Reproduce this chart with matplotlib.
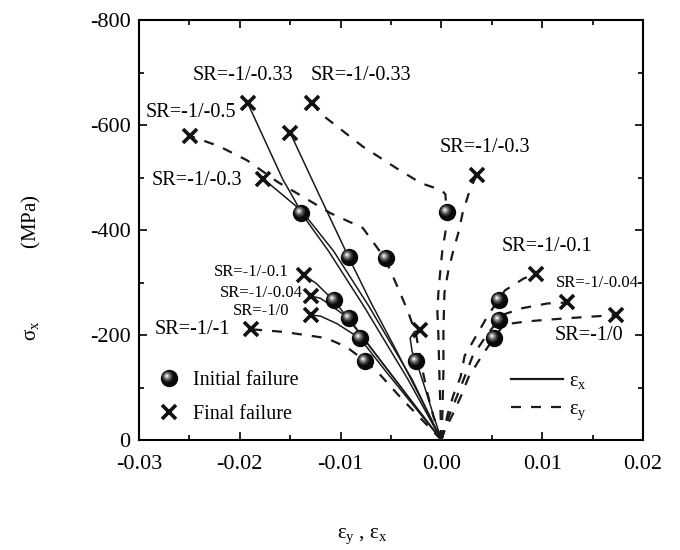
import numpy as np
import matplotlib
matplotlib.use("Agg")
import matplotlib.pyplot as plt
from matplotlib.markers import MarkerStyle
from matplotlib.transforms import Affine2D
from matplotlib.legend_handler import HandlerTuple
from matplotlib.lines import Line2D
from matplotlib.ticker import MultipleLocator, FormatStrFormatter

plt.rcParams['font.family'] = ['Liberation Serif', 'DejaVu Serif']
plt.rcParams['mathtext.fontset'] = 'custom'
plt.rcParams['mathtext.rm'] = 'Liberation Serif'
plt.rcParams['mathtext.it'] = 'Liberation Serif:italic'
plt.rcParams['axes.unicode_minus'] = False

# strain (x) / stress in MPa (y) for each stress ratio, solid = eps_x
ex_sr033_x = [0, -0.0033, -0.0077, -0.0112, -0.0139, -0.0143, -0.0153, -0.0157, -0.0192]
ex_sr033_y = [0, -115, -255, -360, -432, -448, -482, -495, -641]
ex_sr03_x = [0, -0.0029, -0.0072, -0.0107, -0.0136, -0.0142, -0.0177]
ex_sr03_y = [0, -115, -255, -360, -430, -442, -498]
ex_sr05_x = [0, -0.0022, -0.0046, -0.0070, -0.0092, -0.0106, -0.0122, -0.0150]
ex_sr05_y = [0, -85, -175, -262, -348, -405, -470, -585]
ex_sr01_x = [0, -0.0028, -0.0055, -0.0082, -0.0107, -0.0114, -0.0124, -0.0136]
ex_sr01_y = [0, -70, -138, -205, -267, -279, -298, -314]
ex_sr004_x = [0, -0.0030, -0.0061, -0.0092, -0.0108, -0.0120, -0.0129]
ex_sr004_y = [0, -75, -153, -232, -254, -270, -274]
ex_sr0_x = [0, -0.0027, -0.0054, -0.0081, -0.0104, -0.0120, -0.0129]
ex_sr0_y = [0, -64, -128, -194, -222, -236, -238]
ex_sr1_x = [0, -0.0008, -0.0016, -0.0025, -0.0029, -0.0031, -0.0027, -0.0021]
ex_sr1_y = [0, -48, -97, -151, -168, -194, -206, -210]

# dashed = eps_y
ey_sr1_x = [0, -0.0022, -0.0041, -0.0063, -0.0076, -0.0094, -0.0114, -0.0135, -0.0157, -0.0189]
ey_sr1_y = [0, -44, -82, -129, -151, -177, -194, -200, -206, -211]
ey_sr05_x = [0, -0.0008, -0.0014, -0.0020, -0.0025, -0.0033, -0.0042, -0.0050, -0.0056,
             -0.0078, -0.0110, -0.0137, -0.0162, -0.0193, -0.0221, -0.0249]
ey_sr05_y = [0, -45, -90, -145, -200, -244, -285, -320, -346,
             -404, -432, -463, -491, -533, -560, -579]
ey_sr033_x = [0, -0.0001, -0.0002, -0.0003, -0.0004, -0.0003, -0.0001, 0.0001, 0.0004,
              0.0005, 0.0004, 0.0000, -0.0020, -0.0044, -0.0078, -0.0120, -0.0128]
ey_sr033_y = [0, -60, -125, -200, -245, -280, -324, -362, -396,
              -435, -468, -476, -489, -517, -559, -622, -641]
ey_sr03_x = [0, 0.0001, 0.0002, 0.0002, 0.0003, 0.0007, 0.0012, 0.0017, 0.0021, 0.0028, 0.0035]
ey_sr03_y = [0, -50, -130, -210, -280, -324, -362, -396, -432, -475, -505]
ey_sr01_x = [0, 0.0002, 0.0006, 0.0012, 0.0019, 0.0023, 0.0035, 0.0047, 0.0057, 0.0063, 0.0082, 0.0094]
ey_sr01_y = [0, -13, -48, -86, -120, -160, -200, -240, -267, -285, -308, -316]
ey_sr004_x = [0, 0.0002, 0.0008, 0.0016, 0.0023, 0.0031, 0.0045, 0.0057, 0.0063, 0.0080, 0.0105, 0.0125]
ey_sr004_y = [0, -13, -48, -86, -120, -160, -200, -229, -240, -251, -260, -262]
ey_sr0_x = [0, 0.0002, 0.0011, 0.0020, 0.0027, 0.0040, 0.0052, 0.0062, 0.0085, 0.0125, 0.0173]
ey_sr0_y = [0, -13, -48, -86, -120, -160, -194, -220, -226, -232, -238]

# initial failure points
init_x = [-0.0139, -0.0092, -0.0055, 0.0006, -0.0107, -0.0092, -0.0081, -0.0076, -0.0025, 0.0057, 0.0057, 0.0052]
init_y = [-432, -348, -346, -435, -267, -232, -194, -151, -151, -267, -229, -194]

# final failure points
final_x = [-0.0192, -0.0128, -0.0249, -0.0150, -0.0177, 0.0035, -0.0136, -0.0129, -0.0129,
           -0.0189, -0.0021, 0.0094, 0.0125, 0.0173]
final_y = [-641, -641, -579, -585, -498, -505, -314, -274, -238, -211, -210, -316, -262, -238]

# stress-ratio labels: text, x, y, fontsize
sr_text = ['SR=-1/-0.33', 'SR=-1/-0.33', 'SR=-1/-0.5', 'SR=-1/-0.3', 'SR=-1/-0.3',
           'SR=-1/-0.1', 'SR=-1/-0.04', 'SR=-1/0', 'SR=-1/-1',
           'SR=-1/-0.1', 'SR=-1/-0.04', 'SR=-1/0']
sr_x = [-0.01968, -0.00798, -0.02484, -0.02425, 0.00432,
        -0.01889, -0.0179, -0.0179, -0.02474,
        0.01048, 0.01544, 0.01464]
sr_y = [-695, -695, -623, -495, -558,
        -320, -280, -246, -210,
        -368, -299, -200]
sr_size = [14.5, 14.5, 14.5, 14.5, 14.5, 12, 12, 12, 14.5, 14.5, 12, 14.5]

solid = [(ex_sr033_x, ex_sr033_y), (ex_sr03_x, ex_sr03_y), (ex_sr05_x, ex_sr05_y),
         (ex_sr01_x, ex_sr01_y), (ex_sr004_x, ex_sr004_y), (ex_sr0_x, ex_sr0_y),
         (ex_sr1_x, ex_sr1_y)]
dashed = [(ey_sr1_x, ey_sr1_y), (ey_sr05_x, ey_sr05_y), (ey_sr033_x, ey_sr033_y),
          (ey_sr03_x, ey_sr03_y), (ey_sr01_x, ey_sr01_y), (ey_sr004_x, ey_sr004_y),
          (ey_sr0_x, ey_sr0_y)]

# shaded ball: scale, highlight shift, colour
SHADE = [(1.0, 0.0, '#0a0a0a'), (0.62, 0.11, '#333333'), (0.46, 0.13, '#666666'),
         (0.31, 0.14, '#a0a0a0'), (0.16, 0.15, '#e8e8e8')]


def sphere(ax, x, y, ms=12.5):
    parts = []
    for scale, shift, col in SHADE:
        m = MarkerStyle('o', transform=Affine2D().scale(scale).translate(-shift, shift))
        h, = ax.plot(x, y, ls='none', marker=m, ms=ms, mfc=col, mec=col, mew=0, zorder=5)
        parts.append(h)
    return tuple(parts)


fig = plt.figure(figsize=(6.8, 5.5), dpi=100)
ax = fig.add_axes([0.2044, 0.2, 0.7412, 0.7636])

for x, y in solid:
    ax.plot(x, y, color='#1a1a1a', lw=1.1, zorder=3)
for x, y in dashed:
    ax.plot(x, y, color='#1a1a1a', lw=1.6, dashes=(4.5, 4.5), zorder=3)

ball = sphere(ax, init_x, init_y)
cross, = ax.plot(final_x, final_y, ls='none', marker='x', ms=10.5, mew=2.6, color='#111111', zorder=6)

for t, x, y, s in zip(sr_text, sr_x, sr_y, sr_size):
    ax.text(x, y, t, fontsize=s, ha='center', va='center', zorder=7)

ax.set_xlim(-0.03, 0.02)
ax.set_ylim(0, -800)
ax.xaxis.set_major_locator(MultipleLocator(0.01))
ax.xaxis.set_minor_locator(MultipleLocator(0.005))
ax.xaxis.set_major_formatter(FormatStrFormatter('%.2f'))
ax.yaxis.set_major_locator(MultipleLocator(200))
ax.yaxis.set_minor_locator(MultipleLocator(100))
ax.yaxis.set_major_formatter(FormatStrFormatter('%d'))
ax.tick_params(which='both', direction='in', top=True, right=True, labelsize=16, width=1.2)
ax.tick_params(which='major', length=6)
ax.tick_params(which='minor', length=3.5)
ax.tick_params(axis='x', which='major', pad=11)
ax.tick_params(axis='y', which='major', pad=6)
for sp in ax.spines.values():
    sp.set_linewidth(1.5)

ax.set_xlabel('ε$_\\mathregular{y}$ , ε$_\\mathregular{x}$', fontsize=15)
ax.xaxis.set_label_coords(0.442, -0.205)
ax.set_ylabel('σ$_\\mathregular{x}$' + ' ' * 14 + '(MPa)', fontsize=15)
ax.yaxis.set_label_coords(-0.19, 0.41)

leg1 = ax.legend([ball, cross], ['Initial failure', 'Final failure'],
                 handler_map={tuple: HandlerTuple(ndivide=1, pad=0)},
                 loc='lower left', bbox_to_anchor=(0.0, -0.006), frameon=False,
                 fontsize=14.5, handlelength=1.2, handletextpad=0.6, labelspacing=0.75)
ax.add_artist(leg1)

ln_x = Line2D([], [], color='#1a1a1a', lw=1.6)
ln_y = Line2D([], [], color='#1a1a1a', lw=1.6, dashes=(4.5, 4.5))
ax.legend([ln_x, ln_y], ['ε$_\\mathregular{x}$', 'ε$_\\mathregular{y}$'],
          loc='lower left', bbox_to_anchor=(0.702, 0.0), frameon=False,
          fontsize=14.5, handlelength=2.6, handletextpad=0.3, labelspacing=0.45)

fig.savefig('out.png', dpi=100)
